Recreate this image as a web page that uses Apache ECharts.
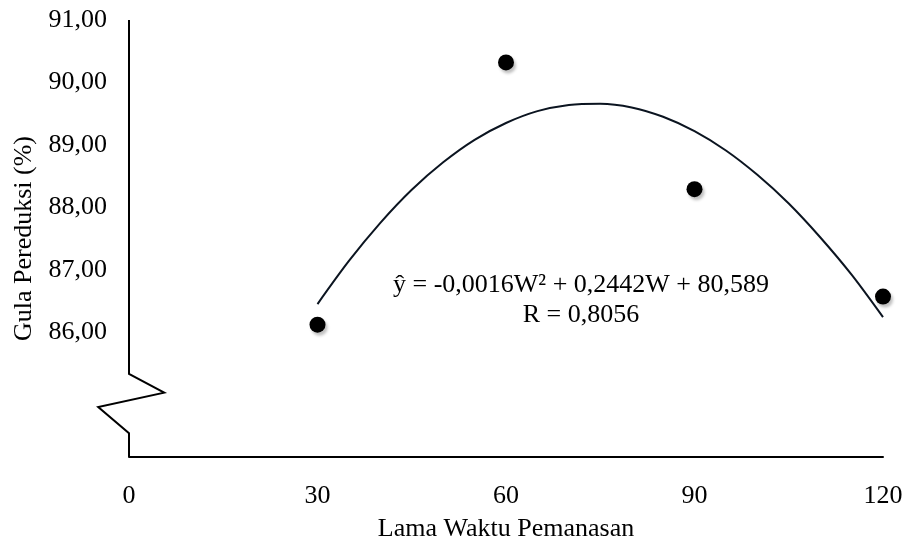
<!DOCTYPE html>
<html>
<head>
<meta charset="utf-8">
<script src="https://cdn.jsdelivr.net/npm/echarts@6/dist/echarts.min.js"></script>
<style>
  html, body { margin: 0; padding: 0; background: #fff; }
  #container { width: 906px; height: 541px; }
</style>
</head>
<body>
<div id="container"></div>
<script>
// observed values
var waktu = [30, 60, 90, 120];
var gula = [86.12, 90.32, 88.29, 86.57];

// trend curve
var curveX = [30, 35, 40, 45, 50, 55, 60, 65, 70, 75, 80, 85, 90, 95, 100, 105, 110, 115, 120];
var curveY = [86.45, 87.14, 87.75, 88.28, 88.72, 89.08, 89.35, 89.54, 89.64, 89.66, 89.60,
              89.45, 89.22, 88.91, 88.52, 88.06, 87.52, 86.92, 86.24];

var xTicks = [0, 30, 60, 90, 120];
var yLabelMin = 86;

var eqText = 'ŷ = -0,0016W² + 0,2442W + 80,589';
var rText = 'R = 0,8056';

var FONT = "'Liberation Serif', 'Times New Roman', serif";

var dom = document.getElementById('container');
var myChart = echarts.init(dom, null, { renderer: 'canvas' });

var pts = waktu.map(function (w, i) { return [w, gula[i]]; });
var curve = curveX.map(function (w, i) { return [w, curveY[i]]; });

var option = {
    backgroundColor: '#fff',
    animation: false,
    grid: { left: 129, right: 23, top: 20, bottom: 84, outerBoundsMode: 'none', containLabel: false },
    xAxis: {
        type: 'value',
        min: xTicks[0],
        max: xTicks[xTicks.length - 1],
        interval: 30,
        name: 'Lama Waktu Pemanasan',
        nameLocation: 'middle',
        nameGap: 59,
        nameTextStyle: { fontFamily: FONT, fontSize: 26, color: '#000' },
        axisLine: { show: true, lineStyle: { color: '#000', width: 2 } },
        axisTick: { show: false },
        splitLine: { show: false },
        axisLabel: { margin: 26, fontFamily: FONT, fontSize: 26, color: '#000' }
    },
    yAxis: {
        type: 'value',
        min: 84,
        max: 91,
        interval: 1,
        name: 'Gula Pereduksi (%)',
        nameLocation: 'middle',
        nameRotate: 90,
        nameGap: 91,
        nameTextStyle: { fontFamily: FONT, fontSize: 26, color: '#000' },
        axisLine: { show: false },
        axisTick: { show: false },
        splitLine: { show: false },
        axisLabel: {
            margin: 22,
            fontFamily: FONT,
            fontSize: 26,
            color: '#000',
            formatter: function (v) {
                return v >= yLabelMin ? v.toFixed(2).replace('.', ',') : '';
            }
        }
    },
    series: [
        {
            name: 'trend',
            type: 'line',
            data: curve,
            smooth: 0.3,
            showSymbol: false,
            silent: true,
            lineStyle: { color: '#0b1420', width: 2 },
            z: 2
        },
        {
            name: 'Gula',
            type: 'scatter',
            data: pts,
            symbolSize: 16,
            itemStyle: {
                color: '#000',
                opacity: 1,
                shadowColor: 'rgba(0,0,0,0.25)',
                shadowBlur: 3,
                shadowOffsetX: 2,
                shadowOffsetY: 3
            },
            z: 3
        }
    ]
};
myChart.setOption(option);

// y axis line with the break zigzag (in data units)
var breakPath = [[0, 91], [0, 85.33], [5.6, 85.03], [-4.9, 84.8], [0, 84.38], [0, 84]];
var px = breakPath.map(function (p) { return myChart.convertToPixel({ gridIndex: 0 }, p); });

myChart.setOption({
    graphic: [
        {
            type: 'polyline',
            shape: { points: px },
            style: { stroke: '#000', lineWidth: 2, fill: null },
            z: 10
        },
        {
            type: 'text',
            x: 581,
            y: 272,
            style: { text: eqText, font: '26px ' + FONT, fill: '#000', align: 'center' }
        },
        {
            type: 'text',
            x: 581,
            y: 302,
            style: { text: rText, font: '26px ' + FONT, fill: '#000', align: 'center' }
        }
    ]
});
</script>
</body>
</html>
